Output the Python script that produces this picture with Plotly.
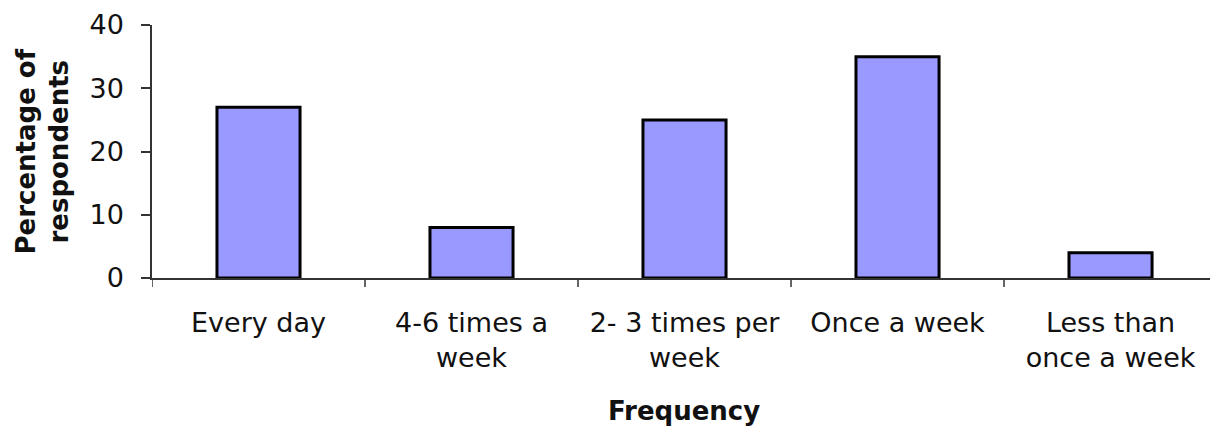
import plotly.graph_objects as go

categories = ["Every day", "4-6 times a<br>week", "2- 3 times per<br>week", "Once a week", "Less than<br>once a week"]
values = [27, 8, 25, 35, 4]
y_ticks = [0, 10, 20, 30, 40]

W, H = 1210, 430
L, R, T, B = 152, 0, 25, 152
pw = W - L - R
ph = H - T - B

fig = go.Figure()
fig.add_trace(go.Bar(
    x=list(range(len(categories))),
    y=values,
    marker=dict(color="#9999FF", line=dict(color="#000000", width=3)),
    width=0.39,
    hoverinfo="skip",
))

FONT = "DejaVu Sans"
fig.update_layout(
    width=W, height=H,
    margin=dict(l=L, r=R, t=T, b=B, pad=0, autoexpand=False),
    paper_bgcolor="white", plot_bgcolor="white",
    showlegend=False,
    font=dict(family=FONT, color="#111111"),
    xaxis=dict(
        tickmode="array",
        tickvals=list(range(len(categories))),
        ticktext=categories,
        range=[-0.5, 4.467],
        showgrid=False, zeroline=False, automargin=False,
        showline=True, linecolor="#333333", linewidth=1.5,
        ticks="", tickfont=dict(size=27, family=FONT, color="#111111"),
        ticklabelstandoff=20,
    ),
    yaxis=dict(
        range=[0, 40],
        tickvals=y_ticks,
        showgrid=False, zeroline=False, automargin=False,
        showline=True, linecolor="#333333", linewidth=1.5,
        ticks="outside", ticklen=9, tickwidth=1.5, tickcolor="#333333",
        tickfont=dict(size=27, family=FONT, color="#111111"),
        ticklabelstandoff=12,
    ),
)

# category boundary tick marks on the x axis
for b in [-0.5, 0.5, 1.5, 2.5, 3.5, 4.5]:
    fig.add_shape(type="line", xref="x", yref="paper",
                  x0=b, x1=b, y0=0, y1=-9 / ph,
                  line=dict(color="#333333", width=1.5))

fig.add_annotation(
    text="<b>Percentage of<br>respondents</b>",
    xref="paper", yref="paper",
    x=(42 - L) / pw, y=0.5,
    xanchor="center", yanchor="middle",
    textangle=-90, showarrow=False,
    font=dict(size=26, family=FONT, color="#111111"),
)
fig.add_annotation(
    text="<b>Frequency</b>",
    xref="paper", yref="paper",
    x=(684 - L) / pw, y=(T + ph - 411) / ph,
    xanchor="center", yanchor="middle",
    showarrow=False,
    font=dict(size=26, family=FONT, color="#111111"),
)

fig.write_html(
    "out.html",
    config={"displayModeBar": False},
    post_script="document.body.style.margin='0px';document.body.style.overflow='hidden';",
)
